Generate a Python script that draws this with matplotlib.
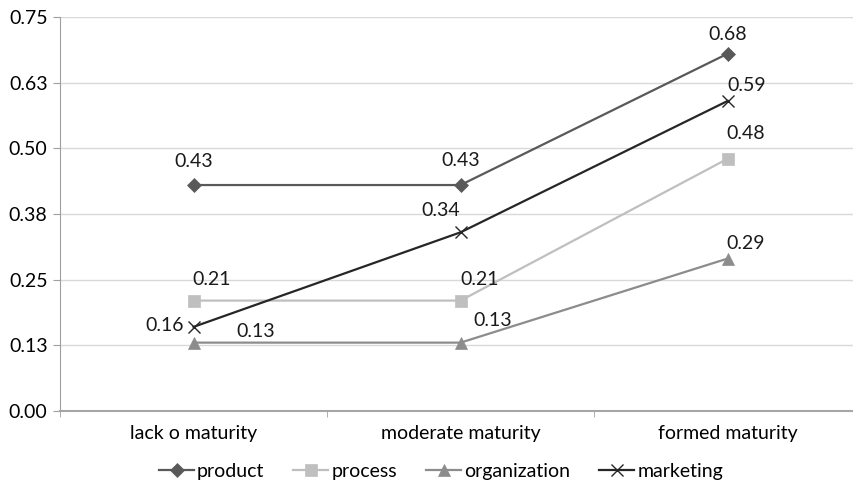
import numpy as np
import matplotlib
matplotlib.use('Agg')
import matplotlib.pyplot as plt

plt.rcParams['font.family'] = ['Lato', 'DejaVu Sans']

categories = ['lack o maturity', 'moderate maturity', 'formed maturity']
product = [0.43, 0.43, 0.68]
process = [0.21, 0.21, 0.48]
organization = [0.13, 0.13, 0.29]
marketing = [0.16, 0.34, 0.59]
y_ticks = [0.00, 0.125, 0.25, 0.375, 0.50, 0.625, 0.75]
y_labels = ['0.00', '0.13', '0.25', '0.38', '0.50', '0.63', '0.75']

fig = plt.figure(figsize=(8.54, 4.84), dpi=100)
# right end of the axis runs past the picture edge, as in the reference
ax = fig.add_axes([0.0703, 0.151, 0.938, 0.814])

x = np.arange(len(categories))

# name, values, colour, marker, size, label offsets (points), label alignment
series = [
    ('product', product, '#595959', 'D', 7, [(0, 17), (0, 18), (0, 14)], ['center'] * 3),
    ('process', process, '#BFBFBF', 's', 9, [(13, 15), (14, 15), (13, 18)], ['center'] * 3),
    ('organization', organization, '#8C8C8C', '^', 9, [(45, 8), (23, 16), (13, 11)], ['center'] * 3),
    ('marketing', marketing, '#262626', 'x', 9, [(-7, 1), (-14, 16), (14, 11)], ['right', 'center', 'center']),
]

for name, vals, col, mk, ms, offs, has in series:
    ax.plot(x, vals, color=col, marker=mk, markersize=ms, linewidth=1.6,
            markeredgewidth=1 if mk == 'x' else 0.5, label=name, zorder=3,
            clip_on=False)
    for xi, v, off, ha in zip(x, vals, offs, has):
        ax.annotate('%.2f' % v, (xi, v), xytext=off, textcoords='offset points',
                    ha=ha, va='center', fontsize=14, color='#1a1a1a')

ax.set_xlim(-0.5, 2.5)
ax.set_ylim(0, 0.75)
ax.set_yticks(y_ticks)
ax.set_yticklabels(y_labels, fontsize=14)
ax.set_xticks(x)
ax.set_xticklabels(categories, fontsize=14)
ax.set_xticks([-0.5, 0.5, 1.5, 2.5], minor=True)
ax.tick_params(axis='x', which='major', length=0, pad=10)
ax.tick_params(axis='x', which='minor', length=4, color='#A0A0A0')
ax.tick_params(axis='y', length=5, color='#A0A0A0', pad=4)
ax.grid(axis='y', color='#D9D9D9', linewidth=1)
ax.set_axisbelow(True)
for s in ['top', 'right']:
    ax.spines[s].set_visible(False)
ax.spines['left'].set_color('#A0A0A0')
ax.spines['bottom'].set_color('#A6A6A6')
ax.spines['bottom'].set_linewidth(1.5)

fig.legend(*ax.get_legend_handles_labels(), loc='center',
           bbox_to_anchor=(441 / 854, 1 - 471 / 484), ncol=4, frameon=False,
           fontsize=14, handlelength=1.8, handletextpad=0.15, columnspacing=1.5)

fig.savefig('out.png', dpi=100)
